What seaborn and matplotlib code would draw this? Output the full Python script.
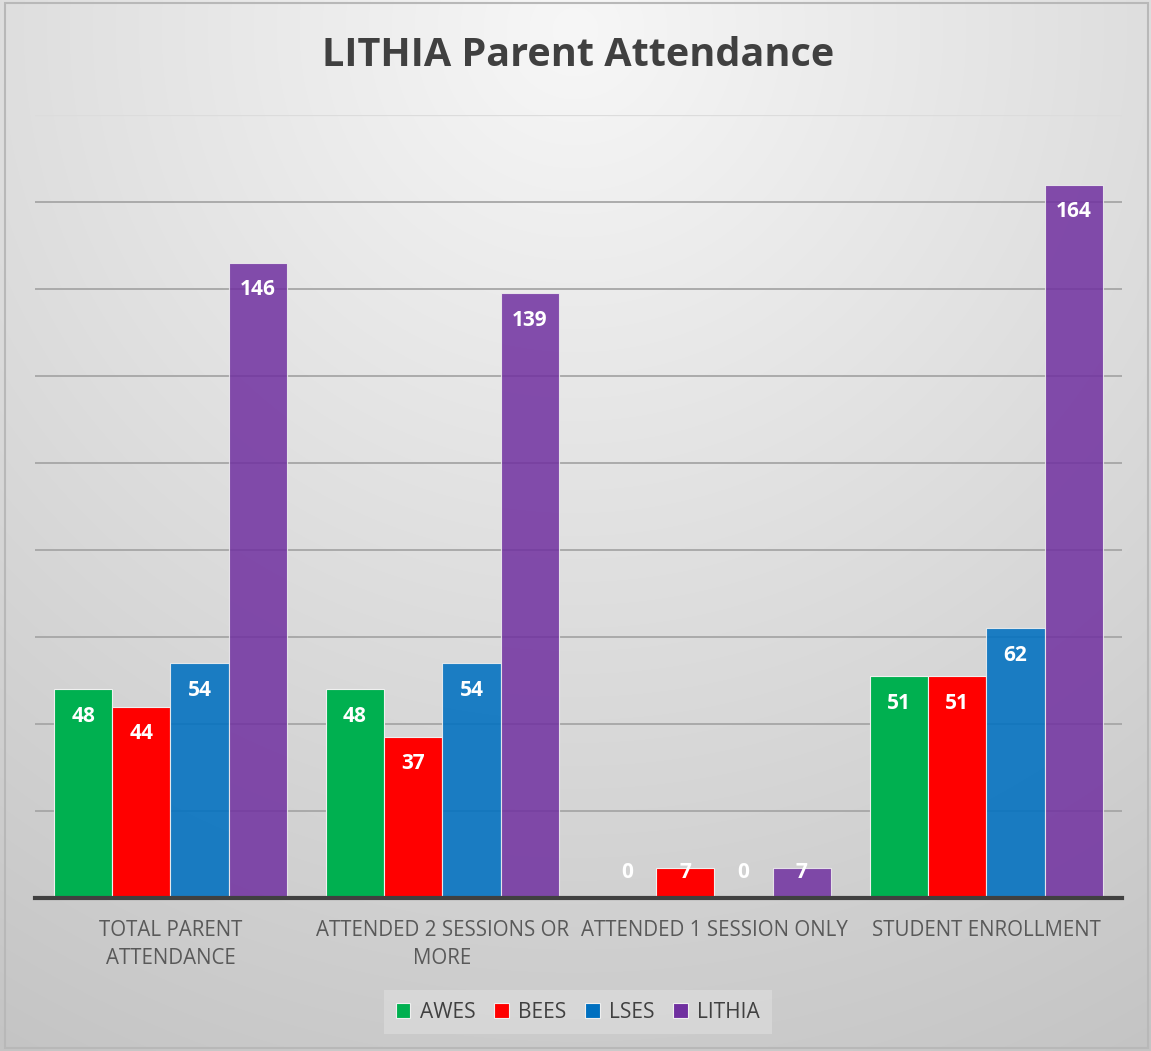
import numpy as np
import pandas as pd
import matplotlib
matplotlib.use("Agg")
import matplotlib.pyplot as plt
import seaborn as sns
from matplotlib.patches import Rectangle

# data
categories = ["TOTAL PARENT\nATTENDANCE", "ATTENDED 2 SESSIONS OR\nMORE",
              "ATTENDED 1 SESSION ONLY", "STUDENT ENROLLMENT"]
schools = ["AWES", "BEES", "LSES", "LITHIA"]
awes = [48, 48, 0, 51]
bees = [44, 37, 7, 51]
lses = [54, 54, 0, 62]
lithia = [146, 139, 7, 164]

colors = ["#00B050", "#FF0000", "#0070C0", "#7030A0"]
alphas = [1.0, 1.0, 0.88, 0.85]

df = pd.DataFrame({
    "category": categories * 4,
    "school": [s for s in schools for _ in categories],
    "value": awes + bees + lses + lithia,
})

sns.set_style("white")
plt.rcParams["font.family"] = ["Open Sans", "DejaVu Sans"]

fig = plt.figure(figsize=(11.51, 10.51), dpi=100)

# radial grey background, light at top centre
bg = fig.add_axes([0, 0, 1, 1], zorder=-10)
yy, xx = np.mgrid[0:1051, 0:1151]
d = np.sqrt((xx - 575.0) ** 2 + (yy - 30.0) ** 2) / 1172.0
img = np.clip((247 - 51 * d) / 255.0, 0, 1)
bg.imshow(np.dstack([img, img, img]), aspect="auto", extent=[0, 1, 0, 1], origin="upper")
bg.axis("off")
fig.patches.append(Rectangle((0.004, 0.003), 0.993, 0.994, transform=fig.transFigure,
                             fill=False, edgecolor="#b8b8b8", lw=1.5))

ax = fig.add_axes([0.030, 0.1456, 0.945, 0.745])
ax.patch.set_alpha(0)

sns.barplot(data=df, x="category", y="value", hue="school", hue_order=schools,
            palette=colors, saturation=1, width=0.857, ax=ax, edgecolor="#f0f0f0",
            linewidth=0.8, legend=True)

for cont, a in zip(ax.containers, alphas):
    for p in cont.patches:
        p.set_alpha(a)
        p.set_zorder(3)

# value labels
for cont, vals in zip(ax.containers, [awes, bees, lses, lithia]):
    for p, v in zip(cont.patches, vals):
        x = p.get_x() + p.get_width() / 2
        y = max(v - 6.2, 5.8)
        ax.text(x, y, str(v), ha="center", va="center", color="white",
                fontsize=15, fontweight="bold", zorder=5)

ax.set_ylim(0, 180)
ax.set_xlim(-0.5, 3.5)
for g in range(20, 180, 20):
    ax.axhline(g, color="#a6a6a6", lw=1.3, zorder=0)
ax.axhline(180, color="#dcdcdc", lw=1.6, zorder=0)
ax.tick_params(axis="y", left=False, labelleft=False)
ax.tick_params(axis="x", bottom=False, labelsize=14.8, labelcolor="#595959", pad=12)
for lbl in ax.get_xticklabels():
    lbl.set_linespacing(1.45)
for s in ["top", "left", "right"]:
    ax.spines[s].set_visible(False)
ax.spines["bottom"].set_color("#404040")
ax.spines["bottom"].set_linewidth(3)
ax.spines["bottom"].set_zorder(6)
ax.set_xlabel("")
ax.set_ylabel("")

leg = ax.legend(loc="center", bbox_to_anchor=(578 / 1151, 1 - 1012 / 1051),
                bbox_transform=fig.transFigure, ncol=4, frameon=True, fontsize=15,
                handlelength=0.7, handleheight=0.7, handletextpad=0.45,
                columnspacing=0.9, borderpad=0.55, fancybox=False)
leg.get_frame().set_facecolor("#dadada")
leg.get_frame().set_edgecolor("none")
for t in leg.get_texts():
    t.set_color("#404040")
for h in leg.legend_handles:
    h.set_alpha(1)
    h.set_edgecolor("#f0f0f0")

fig.text(578 / 1151, 1 - 55 / 1051, "LITHIA Parent Attendance", ha="center", va="center",
         fontsize=28.5, fontweight="bold", color="#404040")

fig.savefig("out.png", dpi=100)
